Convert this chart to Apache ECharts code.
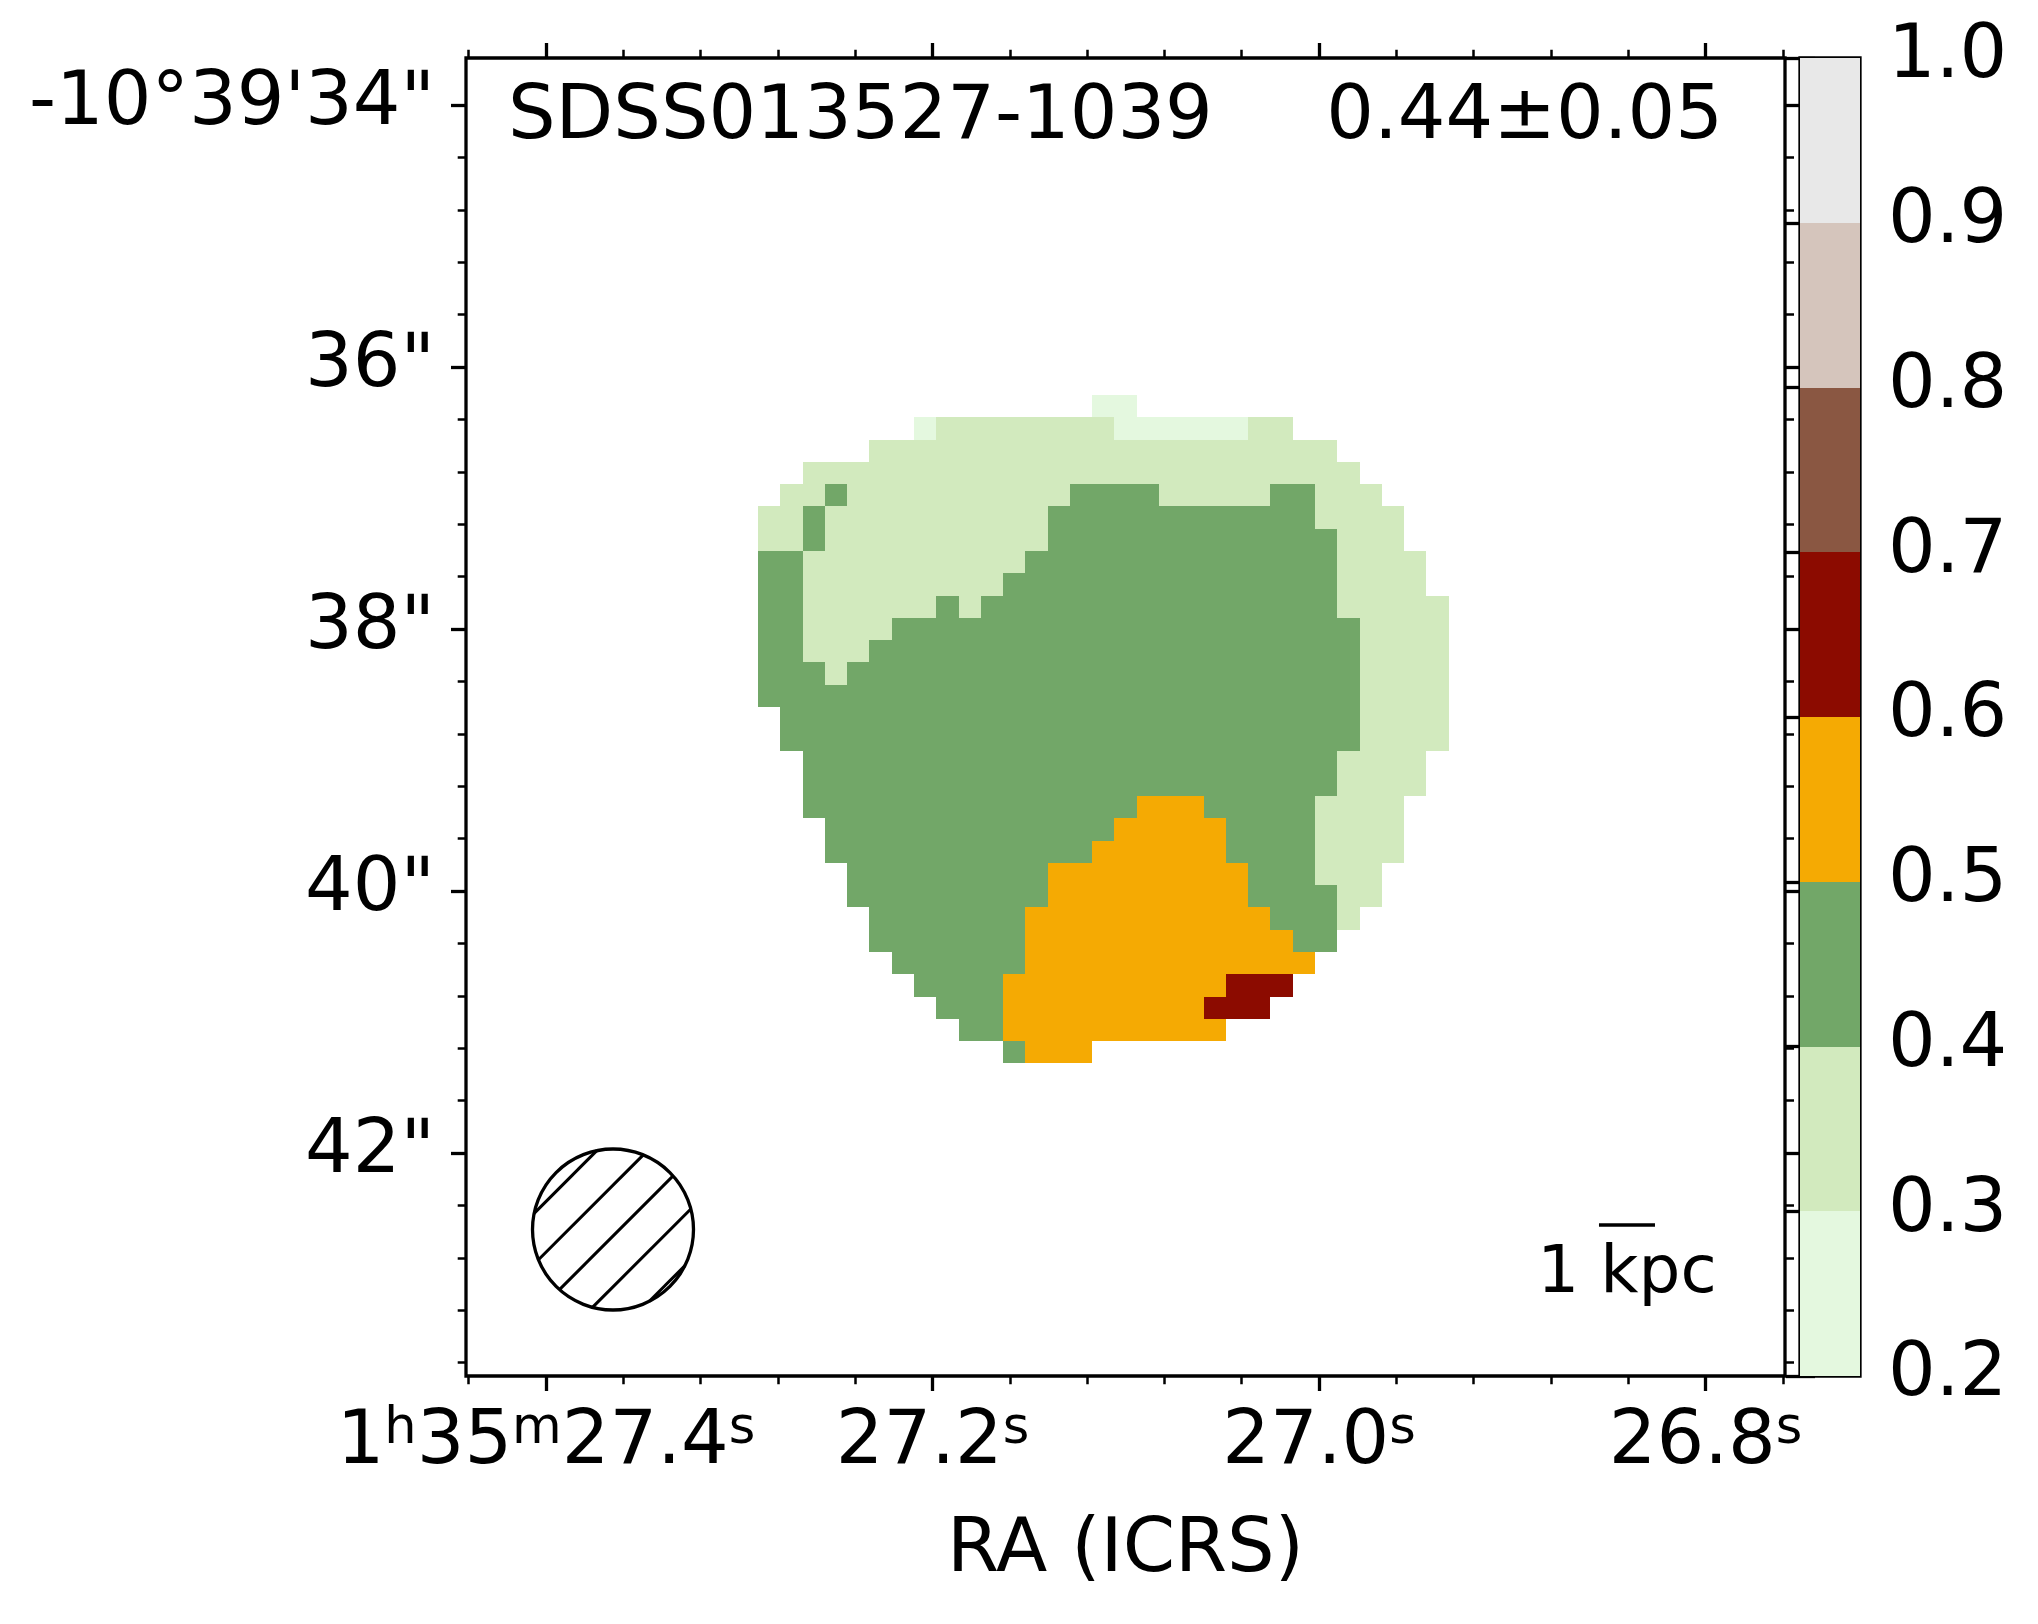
<!DOCTYPE html>
<html><head><meta charset="utf-8">
<script src="https://cdn.jsdelivr.net/npm/echarts@6/dist/echarts.min.js"></script>
<style>html,body{margin:0;padding:0;background:#fff}#c{width:2038px;height:1624px}</style>
</head><body><div id="c"></div>
<script>
// ---------------- data ----------------
const objectName = 'SDSS013527-1039';
const meanValue = '0.44±0.05';
const raTicks = [27.4, 27.2, 27.0, 26.8];
const raTickLabels = ['1^h35^m27.4^s', '27.2^s', '27.0^s', '26.8^s'];
const decTicks = [34, 36, 38, 40, 42];
const decTickLabels = ['-10°39\'34"', '36"', '38"', '40"', '42"'];
const raName = 'RA (ICRS)';
const cbLevels = [0.2, 0.3, 0.4, 0.5, 0.6, 0.7, 0.8, 0.9, 1.0];
const cbColors = ['#e4f8df', '#d2eabe', '#72a768', '#f5aa03', '#8c0b00', '#8a5742', '#d5c5bc', '#e8e8e8'];
// image pixel grid (WCS): RA (s) of the left edge of column 0, Dec (") of the top edge of row 0, pixel size
const gridRA0 = 27.29030, gridDRA = 0.011529;
const gridDec0 = 36.2137, gridDDec = 0.17008;
// map rows from top to bottom: runs [firstCol, lastCol, bin] ; bin 2 -> 0.2-0.3, 3 -> 0.3-0.4 ...
const mapRows = [
  [[15,16,2]],
  [[7,7,2],[8,15,3],[16,21,2],[22,23,3]],
  [[5,25,3]],
  [[2,26,3]],
  [[1,2,3],[3,3,4],[4,13,3],[14,17,4],[18,22,3],[23,24,4],[25,27,3]],
  [[0,1,3],[2,2,4],[3,12,3],[13,24,4],[25,28,3]],
  [[0,1,3],[2,2,4],[3,12,3],[13,25,4],[26,28,3]],
  [[0,1,4],[2,11,3],[12,25,4],[26,29,3]],
  [[0,1,4],[2,10,3],[11,25,4],[26,29,3]],
  [[0,1,4],[2,7,3],[8,8,4],[9,9,3],[10,25,4],[26,30,3]],
  [[0,1,4],[2,5,3],[6,26,4],[27,30,3]],
  [[0,1,4],[2,4,3],[5,26,4],[27,30,3]],
  [[0,2,4],[3,3,3],[4,26,4],[27,30,3]],
  [[0,26,4],[27,30,3]],
  [[1,26,4],[27,30,3]],
  [[1,26,4],[27,30,3]],
  [[2,25,4],[26,29,3]],
  [[2,25,4],[26,29,3]],
  [[2,16,4],[17,19,5],[20,24,4],[25,28,3]],
  [[3,15,4],[16,20,5],[21,24,4],[25,28,3]],
  [[3,14,4],[15,20,5],[21,24,4],[25,28,3]],
  [[4,12,4],[13,21,5],[22,24,4],[25,27,3]],
  [[4,12,4],[13,21,5],[22,25,4],[26,27,3]],
  [[5,11,4],[12,22,5],[23,25,4],[26,26,3]],
  [[5,11,4],[12,23,5],[24,25,4]],
  [[6,11,4],[12,24,5]],
  [[7,10,4],[11,20,5],[21,23,6]],
  [[8,10,4],[11,19,5],[20,22,6]],
  [[9,10,4],[11,20,5]],
  [[11,11,4],[12,14,5]]
];
const beam = [27.36533, 42.5840, 0.6145];      // RA (s), Dec ("), radius (")
const scaleBar = [26.84063, 42.5496, 0.4275];  // RA (s), Dec ("), 1 kpc in arcsec
const scaleBarLabel = '1 kpc';

// ---------------- build ----------------
const FONT = 'DejaVu Sans';
const raMin = 26.75886, raMax = 27.44140;
const decMin = 33.6412, decMax = 43.7023;

const cells = [];
mapRows.forEach((runs, r) => {
  runs.forEach(([a, b, bin]) => {
    for (let c = a; c <= b; c++) {
      cells.push([gridRA0 - (c + 0.5) * gridDRA, gridDec0 + (r + 0.5) * gridDDec, bin / 10 + 0.05]);
    }
  });
});

const raMinor = [];
for (let v = 26.76; v <= 27.4401; v += 0.04) raMinor.push(Math.round(v * 100) / 100);
const decMinor = [];
for (let v = 34.0; v <= 43.6001; v += 0.4) decMinor.push(Math.round(v * 10) / 10);

const tickStyle = (len, w) => ({ show: true, inside: false, length: len, lineStyle: { color: '#000', width: w } });

function xAx(position, values, len, w, labels) {
  const ax = {
    type: 'value', gridIndex: 0, position, min: raMin, max: raMax, inverse: true,
    axisLine: { show: false }, splitLine: { show: false },
    axisTick: Object.assign(tickStyle(len, w), { customValues: values }),
    axisLabel: { show: false }
  };
  if (labels) {
    ax.axisLabel = {
      show: true, customValues: raTicks, color: '#000', fontFamily: FONT, fontSize: 75, lineHeight: 80, margin: 28,
      formatter: v => {
        const i = raTicks.findIndex(t => Math.abs(t - v) < 1e-6);
        return i < 0 ? '' : raTickLabels[i].replace(/\^(\w)/g, '{sup|$1}');
      },
      rich: { sup: { fontSize: 51, lineHeight: 29, verticalAlign: 'top', color: '#000', fontFamily: FONT } }
    };
    ax.name = raName;
    ax.nameLocation = 'middle';
    ax.nameGap = 138;
    ax.nameTextStyle = { color: '#000', fontFamily: FONT, fontSize: 75 };
  }
  return ax;
}
function yAx(position, values, len, w, labels) {
  const ax = {
    type: 'value', gridIndex: 0, position, min: decMin, max: decMax, inverse: true,
    axisLine: { show: false }, splitLine: { show: false },
    axisTick: Object.assign(tickStyle(len, w), { customValues: values }),
    axisLabel: { show: false }
  };
  if (labels) {
    ax.axisLabel = {
      show: true, customValues: decTicks, color: '#000', fontFamily: FONT, fontSize: 75, margin: 31,
      formatter: v => {
        const i = decTicks.findIndex(t => Math.abs(t - v) < 1e-6);
        return i < 0 ? '' : decTickLabels[i];
      }
    };
  }
  return ax;
}

const option = {
  animation: false,
  backgroundColor: '#fff',
  textStyle: { fontFamily: FONT },
  title: [
    { text: objectName, left: 508, top: 81, padding: 0, textStyle: { color: '#000', fontFamily: FONT, fontSize: 75, fontWeight: 'normal' } },
    { text: meanValue, right: 315, top: 81, padding: 0, textStyle: { color: '#000', fontFamily: FONT, fontSize: 75, fontWeight: 'normal' } }
  ],
  grid: [
    { left: 466, right: 253, top: 58, bottom: 248, show: true, borderColor: '#000', borderWidth: 3.3, backgroundColor: 'transparent' },
    { left: 1800, right: 178, top: 58, bottom: 248, show: true, borderColor: '#000', borderWidth: 3.3, backgroundColor: 'transparent' }
  ],
  xAxis: [
    xAx('bottom', raTicks, 15, 3.3, true),
    xAx('bottom', raMinor, 8.3, 2.5, false),
    xAx('top', raTicks, 15, 3.3, false),
    xAx('top', raMinor, 8.3, 2.5, false),
    { type: 'value', gridIndex: 1, min: 0, max: 1, show: false }
  ],
  yAxis: [
    yAx('left', decTicks, 15, 3.3, true),
    yAx('left', decMinor, 8.3, 2.5, false),
    yAx('right', decTicks, 14, 3.3, false),
    yAx('right', decMinor, 9, 2.5, false),
    {
      type: 'value', gridIndex: 1, position: 'right', min: 0.2, max: 1.0, interval: 0.1,
      axisLine: { show: false }, splitLine: { show: false },
      axisTick: tickStyle(15, 3.3),
      axisLabel: { color: '#000', fontFamily: FONT, fontSize: 75, margin: 28, formatter: v => v.toFixed(1) }
    },
    {
      type: 'value', gridIndex: 1, position: 'left', min: 0.2, max: 1.0, interval: 0.1,
      axisLine: { show: false }, splitLine: { show: false },
      axisTick: tickStyle(14, 3.3), axisLabel: { show: false }
    }
  ],
  visualMap: {
    type: 'piecewise', show: false, seriesIndex: 0, dimension: 2,
    pieces: cbColors.map((c, i) => ({ gte: cbLevels[i], lt: cbLevels[i + 1], color: c }))
  },
  series: [
    {
      type: 'custom', name: 'map', xAxisIndex: 0, yAxisIndex: 0, data: cells, clip: true,
      renderItem: (params, api) => {
        const p = api.coord([api.value(0), api.value(1)]);
        const s = api.size([gridDRA, gridDDec]);
        const x0 = Math.round(p[0] - s[0] / 2), x1 = Math.round(p[0] + s[0] / 2);
        const y0 = Math.round(p[1] - s[1] / 2), y1 = Math.round(p[1] + s[1] / 2);
        return { type: 'rect', shape: { x: x0, y: y0, width: x1 - x0, height: y1 - y0 }, style: { fill: api.visual('color') } };
      }
    },
    {
      type: 'custom', name: 'beam', xAxisIndex: 0, yAxisIndex: 0, data: [beam], silent: true,
      renderItem: (params, api) => {
        const c = api.coord([api.value(0), api.value(1)]);
        const r = api.size([0, api.value(2)])[1];
        const children = [];
        const sp = 35.9, ph = 4.6, k = Math.SQRT1_2;
        for (let i = -5; i <= 5; i++) {
          const d = ph + i * sp;
          if (Math.abs(d) >= r - 1) continue;
          const h = Math.sqrt(r * r - d * d);
          const mx = c[0] + d * k, my = c[1] + d * k;
          children.push({ type: 'line', shape: { x1: mx - h * k, y1: my + h * k, x2: mx + h * k, y2: my - h * k }, style: { stroke: '#000', lineWidth: 3 } });
        }
        children.push({ type: 'circle', shape: { cx: c[0], cy: c[1], r: r }, style: { fill: null, stroke: '#000', lineWidth: 3.3 } });
        return { type: 'group', children };
      }
    },
    {
      type: 'custom', name: 'scalebar', xAxisIndex: 0, yAxisIndex: 0, data: [scaleBar], silent: true,
      renderItem: (params, api) => {
        const p = api.coord([api.value(0), api.value(1)]);
        const w = api.size([0, api.value(2)])[1];
        return {
          type: 'group', children: [
            { type: 'line', shape: { x1: p[0] - w / 2, y1: p[1], x2: p[0] + w / 2, y2: p[1] }, style: { stroke: '#000', lineWidth: 3.3 } },
            { type: 'text', style: { text: scaleBarLabel, x: p[0], y: p[1] + 17, align: 'center', verticalAlign: 'top', textAlign: 'center', textVerticalAlign: 'top', fontSize: 66, fontFamily: FONT, fill: '#000' } }
          ]
        };
      }
    },
    {
      type: 'custom', name: 'colorbar', xAxisIndex: 4, yAxisIndex: 4, silent: true,
      data: cbColors.map((c, i) => [0.5, (cbLevels[i] + cbLevels[i + 1]) / 2, i]),
      renderItem: (params, api) => {
        const i = api.value(2);
        const a = api.coord([0, cbLevels[i + 1]]);
        const b = api.coord([1, cbLevels[i]]);
        const y0 = Math.round(a[1]), y1 = Math.round(b[1]);
        return { type: 'rect', shape: { x: a[0], y: y0, width: b[0] - a[0], height: y1 - y0 }, style: { fill: cbColors[i] } };
      }
    }
  ]
};
const chart = echarts.init(document.getElementById('c'), null, { renderer: 'canvas' });
chart.setOption(option);
</script>
</body></html>
